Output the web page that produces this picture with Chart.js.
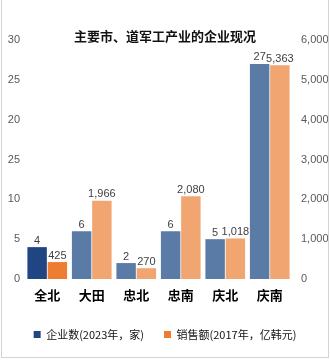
<!DOCTYPE html>
<html>
<head>
<meta charset="utf-8">
<script src="https://cdn.jsdelivr.net/npm/chart.js@4.4.1/dist/chart.umd.min.js"></script>
<style>
  html, body { margin: 0; padding: 0; background: #fff; }
  #wrap { position: relative; width: 330px; height: 360px; }
  #frame {
    position: absolute; left: 1px; top: 0; width: 326px; height: 357px;
    border-left: 1px solid #d4d4d4; border-right: 1px solid #d4d4d4; border-bottom: 1px solid #d4d4d4;
    pointer-events: none;
  }
</style>
</head>
<body>
<div id="wrap">
  <canvas id="chart" width="330" height="360"></canvas>
  <div id="frame"></div>
</div>
<script>
// 数据
const titleText = '主要市、道军工产业的企业现况';
const regions = ['全北', '大田', '忠北', '忠南', '庆北', '庆南'];
const companyCount = [4, 6, 2, 6, 5, 27];
const salesAmount = [425, 1966, 270, 2080, 1018, 5363];
const seriesNames = ['企业数(2023年，家)', '销售额(2017年，亿韩元)'];
// 左轴刻度文字（原图中15处写成了25）
const leftTickLabels = ['0', '5', '10', '25', '20', '25', '30'];

// 颜色：全北高亮
const blueMain = '#1f4582', blueOther = '#5a7ba6';
const orangeMain = '#ed7d31', orangeOther = '#f1a570';
const blueColors = regions.map((r, i) => i === 0 ? blueMain : blueOther);
const orangeColors = regions.map((r, i) => i === 0 ? orangeMain : orangeOther);

const fmt = v => Number(v).toLocaleString('en-US');

// 标题 + 数据标签
const labelPlugin = {
  id: 'labelPlugin',
  afterDatasetsDraw(chart) {
    const ctx = chart.ctx;
    ctx.save();
    ctx.textAlign = 'center';
    ctx.textBaseline = 'bottom';
    ctx.fillStyle = '#3f3f3f';
    ctx.font = '11px "Liberation Sans", Arial, sans-serif';
    chart.data.datasets.forEach((ds, di) => {
      chart.getDatasetMeta(di).data.forEach((bar, i) => {
        ctx.fillText(fmt(ds.data[i]), bar.x, bar.y - 1);
      });
    });
    // 标题
    ctx.fillStyle = '#111';
    ctx.textBaseline = 'middle';
    ctx.font = 'bold 13px "Noto Sans CJK SC", sans-serif';
    ctx.fillText(titleText, 165, 36);
    ctx.restore();
  }
};

new Chart(document.getElementById('chart').getContext('2d'), {
  type: 'bar',
  data: {
    labels: regions,
    datasets: [
      {
        label: seriesNames[0],
        data: companyCount,
        backgroundColor: blueColors,
        yAxisID: 'yLeft',
        categoryPercentage: 0.91,
        barPercentage: 0.96
      },
      {
        label: seriesNames[1],
        data: salesAmount,
        backgroundColor: orangeColors,
        yAxisID: 'yRight',
        categoryPercentage: 0.91,
        barPercentage: 0.96
      }
    ]
  },
  options: {
    responsive: false,
    animation: false,
    layout: { padding: { top: 40, left: 0, right: 0, bottom: 10 } },
    scales: {
      x: {
        grid: { display: false, drawTicks: false },
        border: { display: false },
        ticks: {
          color: '#000',
          padding: 8,
          font: { family: '"Noto Sans CJK SC", sans-serif', size: 13, weight: 'bold' }
        },
        afterFit(scale) { scale.height = 30; }
      },
      yLeft: {
        position: 'left',
        min: 0,
        max: 30,
        grid: { display: false, drawTicks: false },
        border: { display: false },
        ticks: {
          stepSize: 5,
          padding: 5,
          color: '#595959',
          font: { family: '"Liberation Sans", Arial, sans-serif', size: 11 },
          callback: (v, i) => leftTickLabels[i]
        },
        afterFit(scale) { scale.width = 25; }
      },
      yRight: {
        position: 'right',
        min: 0,
        max: 6000,
        grid: { display: false, drawTicks: false },
        border: { display: false },
        ticks: {
          stepSize: 1000,
          padding: 9,
          color: '#595959',
          font: { family: '"Liberation Sans", Arial, sans-serif', size: 11 },
          callback: v => fmt(v)
        },
        afterFit(scale) { scale.width = 38; }
      }
    },
    plugins: {
      title: { display: false },
      tooltip: { enabled: false },
      legend: {
        position: 'bottom',
        labels: {
          boxWidth: 7,
          boxHeight: 7,
          padding: 20,
          color: '#111',
          font: { family: '"Noto Sans CJK SC", sans-serif', size: 11 },
          generateLabels(chart) {
            return chart.data.datasets.map((ds, i) => ({
              text: ds.label,
              fillStyle: i === 0 ? blueMain : orangeMain,
              strokeStyle: i === 0 ? blueMain : orangeMain,
              lineWidth: 0,
              fontColor: '#111',
              datasetIndex: i
            }));
          }
        }
      }
    }
  },
  plugins: [labelPlugin]
});
</script>
</body>
</html>
